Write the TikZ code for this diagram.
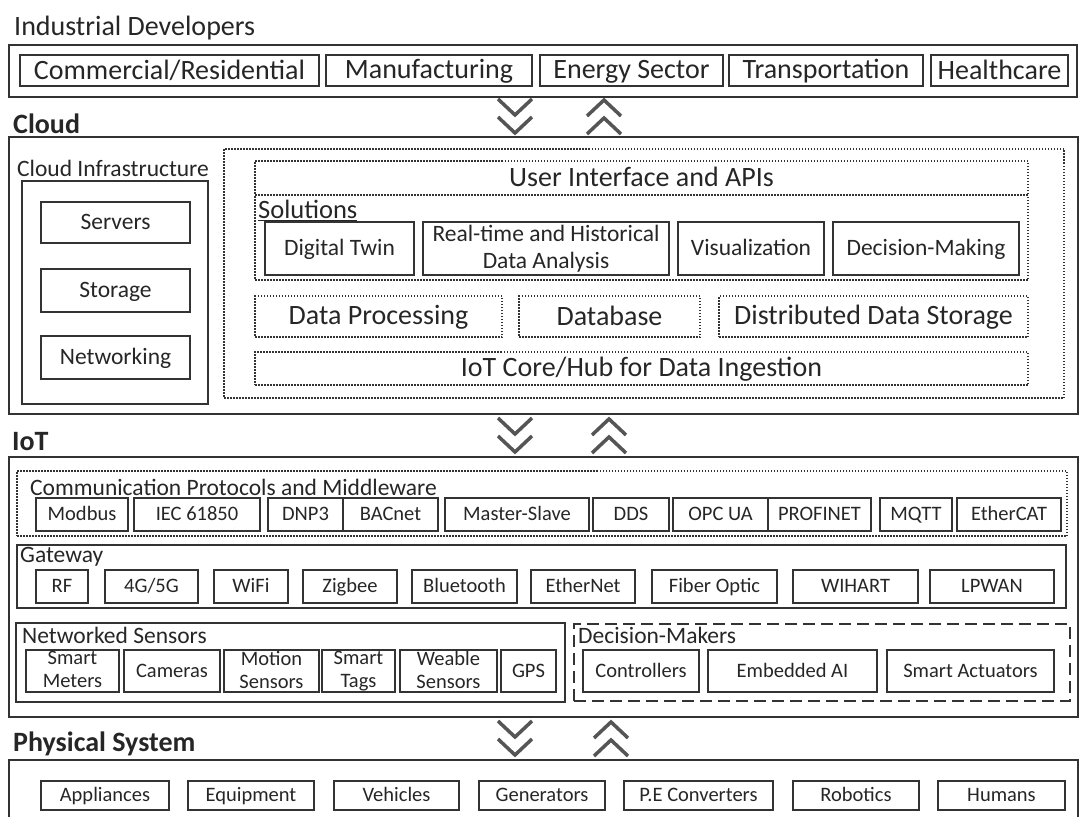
\documentclass[tikz,border=0pt]{standalone}
\usepackage{fontspec}
\setmainfont{Carlito}
\definecolor{ink}{HTML}{262626}
\definecolor{rulec}{HTML}{333333}
\definecolor{chevc}{HTML}{555555}

% invisible rule that gives every line of a box label the same height and depth
\newcommand{\vstrut}{\rule[-0.12em]{0pt}{0.87em}}

% box from its corners: [style]{name}{x1}{y1}{x2}{y2}{text}
\newcommand{\bx}[7][]{%
  \node[#1, minimum width={(#5-#3)*1pt}, minimum height={(#6-#4)*1pt}]
    (#2) at ({(#3+#5)/2},{(#4+#6)/2}) {#7};}

% double chevrons: #1 = x centre, #2 = top
\newcommand{\chevdown}[2]{%
  \draw[chevron] (#1-17,#2) -- (#1,#2+16) -- (#1+17,#2);
  \draw[chevron] (#1-17,#2+18) -- (#1,#2+34) -- (#1+17,#2+18);}
\newcommand{\chevup}[2]{%
  \draw[chevron] (#1-17,#2+16) -- (#1,#2) -- (#1+17,#2+16);
  \draw[chevron] (#1-17,#2+34) -- (#1,#2+18) -- (#1+17,#2+34);}

\begin{document}
\begin{tikzpicture}[x=1pt,y=-1pt,
  outer/.style={draw=rulec, line width=2pt, inner sep=0pt},
  ibox/.style={draw=rulec, line width=1.6pt, inner sep=0pt, text=ink, align=center,
    execute at begin node=\vstrut, execute at end node=\vstrut},
  dotbox/.style={draw=rulec, line width=1.5pt, dash pattern=on 1.5pt off 1.5pt, inner sep=0pt, text=ink, align=center,
    execute at begin node=\vstrut, execute at end node=\vstrut},
  dashbox/.style={draw=rulec, line width=2pt, dash pattern=on 12pt off 6pt, inner sep=0pt},
  fL/.style={font=\fontsize{28}{31}\selectfont},
  fM/.style={font=\fontsize{23.5}{27}\selectfont},
  fS/.style={font=\fontsize{20.5}{23}\selectfont},
  heading/.style={anchor=west, inner sep=0pt, text=ink, font=\fontsize{28}{31}\selectfont\bfseries},
  lbl/.style={anchor=west, inner sep=0pt, text=ink},
  chevron/.style={draw=chevc, line width=3.5pt, line cap=butt, line join=miter},
]
\useasboundingbox (0,0) rectangle (1080,817);

% ---------------- Industrial Developers ----------------
\node[lbl, fL] (indtitle) at (14,28) {Industrial Developers};
\bx[outer]{ind}{9}{45}{1077}{97}{}
\bx[ibox, fL]{commres}{20}{55}{319}{86}{Commercial/Residential}
\bx[ibox, fL]{manuf}{326}{55}{532}{86}{Manufacturing}
\bx[ibox, fL]{energy}{540}{55}{723}{86}{Energy Sector}
\bx[ibox, fL]{transp}{729}{55}{923}{86}{Transportation}
\bx[ibox, fL]{health}{931}{55}{1068}{86}{Healthcare}

\chevdown{515}{99}
\chevup{604}{100}

% ---------------- Cloud ----------------
\node[heading] (cloudtitle) at (13,124) {Cloud};
\bx[outer]{cloud}{9}{137}{1078}{414}{}

\node[lbl, fM] (infratitle) at (17,168) {Cloud Infrastructure};
\bx[outer]{infra}{22}{181}{208}{404}{}
\bx[ibox, fM]{servers}{41}{202}{190}{243}{Servers}
\bx[ibox, fM]{storage}{41}{269}{190}{312}{Storage}
\bx[ibox, fM]{network}{41}{336}{190}{379}{Networking}

\bx[dotbox]{platform}{224}{149}{1064}{398}{}
\bx[dotbox, fL]{ui}{255}{161}{1028}{195}{User Interface and APIs}
\bx[dotbox]{solutions}{255}{195}{1028}{280}{}
\node[lbl, font=\fontsize{26.5}{30}\selectfont] (soltitle) at (258,210) {\underline{Solutions}};
\bx[ibox, fM]{twin}{265}{222}{414}{275}{Digital Twin}
\bx[ibox, fM]{analysis}{423}{222}{669}{275}{Real-time and Historical\\Data Analysis}
\bx[ibox, fM]{visual}{678}{222}{824}{275}{Visualization}
\bx[ibox, fM]{decision}{833}{222}{1019}{275}{Decision-Making}
\bx[dotbox, fL]{dataproc}{255}{296}{502}{337}{Data Processing}
\bx[dotbox, fL]{database}{519}{296}{700}{337}{Database}
\bx[dotbox, fL]{diststore}{719}{296}{1028}{337}{Distributed Data Storage}
\bx[dotbox, fL]{iotcore}{255}{352}{1028}{385}{IoT Core/Hub for Data Ingestion}

\chevdown{515}{418}
\chevup{609}{419}

% ---------------- IoT ----------------
\node[heading] (iottitle) at (12,442) {IoT};
\bx[outer]{iot}{9}{457}{1078}{717}{}

\bx[dotbox]{comm}{17}{471}{1067}{536}{}
\node[lbl, fM] (commtitle) at (30,487) {Communication Protocols and Middleware};
\bx[ibox, fS]{modbus}{36}{498}{128}{531}{Modbus}
\bx[ibox, fS]{iec}{134}{498}{260}{531}{IEC 61850}
\bx[ibox, fS]{dnp}{268}{498}{343}{531}{DNP3}
\bx[ibox, fS]{bacnet}{343}{498}{438}{531}{BACnet}
\bx[ibox, fS]{master}{445}{498}{589}{531}{Master-Slave}
\bx[ibox, fS]{dds}{593}{498}{669}{531}{DDS}
\bx[ibox, fS]{opcua}{673}{498}{768}{531}{OPC UA}
\bx[ibox, fS]{profinet}{768}{498}{871}{531}{PROFINET}
\bx[ibox, fS]{mqtt}{880}{498}{952}{531}{MQTT}
\bx[ibox, fS]{ethercat}{957}{498}{1061}{531}{EtherCAT}

\bx[outer]{gateway}{17}{545}{1066}{608}{}
\node[lbl, fM] (gwtitle) at (20,557) {Gateway};
\bx[ibox, fS]{rf}{36}{570}{88}{603}{RF}
\bx[ibox, fS]{g45}{105}{570}{198}{603}{4G/5G}
\bx[ibox, fS]{wifi}{214}{570}{288}{603}{WiFi}
\bx[ibox, fS]{zigbee}{303}{570}{397}{603}{Zigbee}
\bx[ibox, fS]{bluetooth}{412}{570}{517}{603}{Bluetooth}
\bx[ibox, fS]{ethernet}{531}{570}{635}{603}{EtherNet}
\bx[ibox, fS]{fiber}{652}{570}{777}{603}{Fiber Optic}
\bx[ibox, fS]{wihart}{793}{570}{918}{603}{WIHART}
\bx[ibox, fS]{lpwan}{930}{570}{1054}{603}{LPWAN}

\bx[outer]{sensors}{16}{623}{565}{702}{}
\node[lbl, fM] (senstitle) at (22,635) {Networked Sensors};
\bx[ibox, fS]{meters}{26}{650}{119}{692}{Smart\\Meters}
\bx[ibox, fS]{cameras}{124}{650}{220}{692}{Cameras}
\bx[ibox, fS]{motion}{224}{650}{319}{692}{Motion\\Sensors}
\bx[ibox, fS]{tags}{322}{650}{395}{692}{Smart\\Tags}
\bx[ibox, fS]{wearable}{400}{650}{497}{692}{Weable\\Sensors}
\bx[ibox, fS]{gps}{501}{650}{556}{692}{GPS}

\bx[dashbox]{makers}{574}{624}{1070}{701}{}
\node[lbl, fM] (makerstitle) at (578,635) {Decision-Makers};
\bx[ibox, fS]{controllers}{583}{650}{699}{692}{Controllers}
\bx[ibox, fS]{embedded}{708}{650}{877}{692}{Embedded AI}
\bx[ibox, fS]{actuators}{887}{650}{1054}{692}{Smart Actuators}

\chevdown{515}{721}
\chevup{611}{722}

% ---------------- Physical System ----------------
\node[heading] (phystitle) at (13,744) {Physical System};
\bx[outer]{physical}{9}{760}{1078}{830}{}
\bx[ibox, fS]{appliances}{41}{781}{169}{810}{Appliances}
\bx[ibox, fS]{equipment}{188}{781}{314}{810}{Equipment}
\bx[ibox, fS]{vehicles}{334}{781}{459}{810}{Vehicles}
\bx[ibox, fS]{generators}{479}{781}{605}{810}{Generators}
\bx[ibox, fS]{converters}{624}{781}{773}{810}{P.E Converters}
\bx[ibox, fS]{robotics}{793}{781}{919}{810}{Robotics}
\bx[ibox, fS]{humans}{938}{781}{1065}{810}{Humans}
\end{tikzpicture}
\end{document}
